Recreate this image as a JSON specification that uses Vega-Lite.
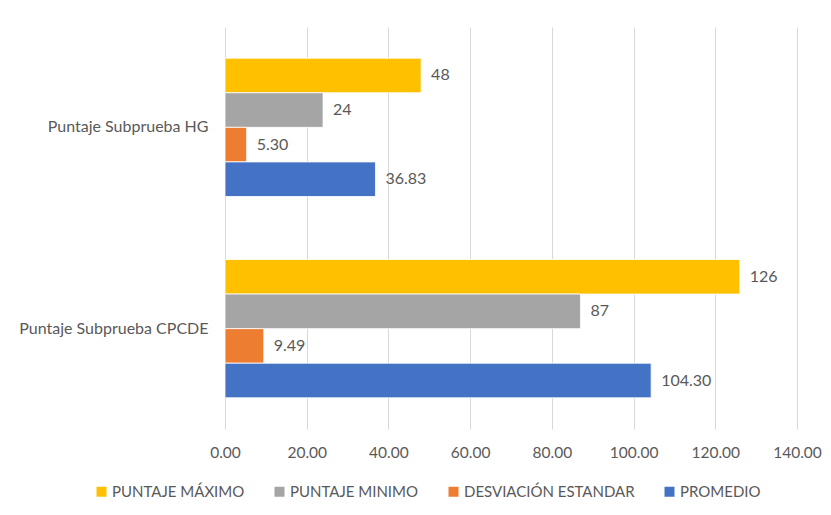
{
  "$schema": "https://vega.github.io/schema/vega-lite/v6.json",
  "width": 572,
  "height": 402,
  "padding": {"left": 5, "top": 27, "right": 10, "bottom": 5},
  "background": "white",
  "data": {
    "values": [
      {"prueba": "Puntaje Subprueba HG", "serie": "PUNTAJE MÁXIMO", "valor": 48, "etiqueta": "48"},
      {"prueba": "Puntaje Subprueba HG", "serie": "PUNTAJE MINIMO", "valor": 24, "etiqueta": "24"},
      {"prueba": "Puntaje Subprueba HG", "serie": "DESVIACIÓN ESTANDAR", "valor": 5.30, "etiqueta": "5.30"},
      {"prueba": "Puntaje Subprueba HG", "serie": "PROMEDIO", "valor": 36.83, "etiqueta": "36.83"},
      {"prueba": "Puntaje Subprueba CPCDE", "serie": "PUNTAJE MÁXIMO", "valor": 126, "etiqueta": "126"},
      {"prueba": "Puntaje Subprueba CPCDE", "serie": "PUNTAJE MINIMO", "valor": 87, "etiqueta": "87"},
      {"prueba": "Puntaje Subprueba CPCDE", "serie": "DESVIACIÓN ESTANDAR", "valor": 9.49, "etiqueta": "9.49"},
      {"prueba": "Puntaje Subprueba CPCDE", "serie": "PROMEDIO", "valor": 104.30, "etiqueta": "104.30"}
    ]
  },
  "encoding": {
    "y": {
      "field": "prueba",
      "type": "nominal",
      "sort": ["Puntaje Subprueba HG", "Puntaje Subprueba CPCDE"],
      "scale": {"paddingInner": 0.313, "paddingOuter": 0.155},
      "axis": {
        "title": null,
        "domain": false,
        "ticks": false,
        "grid": false,
        "labelPadding": 17,
        "labelFont": "Lato",
        "labelFontSize": 16,
        "labelLimit": 300,
        "labelColor": "#595959",
        "minExtent": 220,
        "maxExtent": 220
      }
    },
    "yOffset": {
      "field": "serie",
      "type": "nominal",
      "sort": ["PUNTAJE MÁXIMO", "PUNTAJE MINIMO", "DESVIACIÓN ESTANDAR", "PROMEDIO"],
      "scale": {"paddingInner": 0, "paddingOuter": 0}
    },
    "x": {
      "field": "valor",
      "type": "quantitative",
      "scale": {"domain": [0, 140], "nice": false},
      "axis": {
        "title": null,
        "values": [0, 20, 40, 60, 80, 100, 120, 140],
        "format": ".2f",
        "domain": false,
        "ticks": false,
        "grid": true,
        "gridColor": "#D9D9D9",
        "gridWidth": 1,
        "labelFlush": false,
        "labelPadding": 16,
        "labelFont": "Lato",
        "labelFontSize": 15.5,
        "labelColor": "#595959",
        "minExtent": 40,
        "maxExtent": 40
      }
    }
  },
  "layer": [
    {
      "mark": {"type": "bar", "stroke": "white", "strokeWidth": 0.8},
      "encoding": {
        "color": {
          "field": "serie",
          "type": "nominal",
          "sort": ["PUNTAJE MÁXIMO", "PUNTAJE MINIMO", "DESVIACIÓN ESTANDAR", "PROMEDIO"],
          "scale": {
            "domain": ["PUNTAJE MÁXIMO", "PUNTAJE MINIMO", "DESVIACIÓN ESTANDAR", "PROMEDIO"],
            "range": ["#FFC000", "#A5A5A5", "#ED7D31", "#4472C4"]
          },
          "legend": {
            "title": null,
            "orient": "none",
            "legendX": -131,
            "legendY": 457,
            "direction": "horizontal",
            "symbolType": "square",
            "symbolSize": 100,
            "symbolStrokeWidth": 0,
            "labelFont": "Lato",
            "labelFontSize": 15,
            "labelLimit": 300,
            "labelColor": "#595959",
            "labelOffset": 3,
            "columnPadding": 27
          }
        }
      }
    },
    {
      "mark": {"type": "text", "align": "left", "baseline": "middle", "dx": 10, "font": "Lato", "fontSize": 16, "color": "#595959"},
      "encoding": {"text": {"field": "etiqueta"}}
    }
  ],
  "config": {"view": {"stroke": null}}
}
